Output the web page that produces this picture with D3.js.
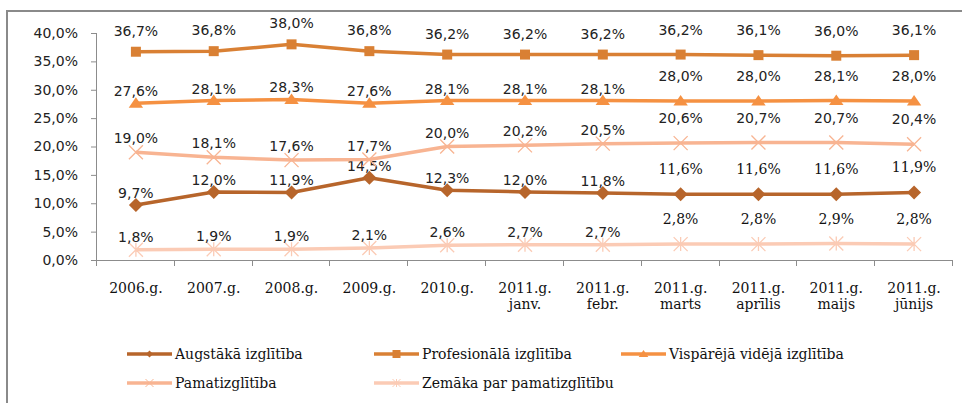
<!DOCTYPE html>
<html lang="lv">
<head>
    <meta charset="UTF-8">
    <title>Izglītība</title>
    <script src="https://d3js.org/d3.v7.min.js"></script>
    <style>
        body { margin: 0; background: #fff; }
        .num { font-family: "DejaVu Sans", Verdana, sans-serif; font-size: 14px; fill: #222; }
        .ser { font-family: "DejaVu Serif", serif; font-size: 14px; fill: #111; }
        .axis path, .axis line { stroke: #8c8c8c; }
    </style>
</head>
<body>
<script>
    const width  = 962;
    const height = 403;

    const years  = ["2006.g.", "2007.g.", "2008.g.", "2009.g.", "2010.g.", "2011.g.", "2011.g.", "2011.g.", "2011.g.", "2011.g.", "2011.g."];
    const months = ["", "", "", "", "", "janv.", "febr.", "marts", "aprīlis", "maijs", "jūnijs"];

    const augstaka     = [9.7, 12.0, 11.9, 14.5, 12.3, 12.0, 11.8, 11.6, 11.6, 11.6, 11.9];
    const profesionala = [36.7, 36.8, 38.0, 36.8, 36.2, 36.2, 36.2, 36.2, 36.1, 36.0, 36.1];
    const visparejaVideja = [27.6, 28.1, 28.3, 27.6, 28.1, 28.1, 28.1, 28.0, 28.0, 28.1, 28.0];
    const pamat        = [19.0, 18.1, 17.6, 17.7, 20.0, 20.2, 20.5, 20.6, 20.7, 20.7, 20.4];
    const zemaka       = [1.8, 1.9, 1.9, 2.1, 2.6, 2.7, 2.7, 2.8, 2.8, 2.9, 2.8];

    const yTicks = [0, 5, 10, 15, 20, 25, 30, 35, 40];

    const series = [
        {name: "Augstākā izglītība",       values: augstaka,        color: "#b7652b", shape: "diamond", gap: 7,  serifFrom: 7},
        {name: "Profesionālā izglītība",   values: profesionala,    color: "#d98034", shape: "square",  gap: 16, serifFrom: 99},
        {name: "Vispārējā vidējā izglītība", values: visparejaVideja, color: "#f59142", shape: "triangle", gap: 7, serifFrom: 99},
        {name: "Pamatizglītība",           values: pamat,           color: "#f8b492", shape: "x",       gap: 9,  serifFrom: 99},
        {name: "Zemāka par pamatizglītību", values: zemaka,         color: "#fbcbb5", shape: "star",    gap: 8,  serifFrom: 7}
    ];

    const fmt = v => v.toFixed(1).replace(".", ",") + "%";

    const x = d3.scaleBand().domain(d3.range(years.length)).range([97, 953]).padding(0);
    const y = d3.scaleLinear().domain([0, 40]).range([260, 33]);
    const cx = i => x(i) + x.bandwidth() / 2;

    function marker(shape, r) {
        if (shape === "diamond") return `M0,${-r}L${r},0L0,${r}L${-r},0Z`;
        if (shape === "square") return `M${-r},${-r}H${r}V${r}H${-r}Z`;
        if (shape === "triangle") return `M0,${-r}L${r * 1.2},${r * 0.75}L${-r * 1.2},${r * 0.75}Z`;
        if (shape === "x") return `M${-r},${-r}L${r},${r}M${r},${-r}L${-r},${r}`;
        return `M${-r},${-r}L${r},${r}M${r},${-r}L${-r},${r}M0,${-r}V${r}`;
    }
    const filled = s => s === "diamond" || s === "square" || s === "triangle";

    const svg = d3.select("body").append("svg").attr("width", width).attr("height", height);

    svg.append("rect").attr("x", 7).attr("y", 11).attr("width", 970).attr("height", 400)
        .attr("fill", "#fff").attr("stroke", "#8a8a8a").attr("stroke-width", 2);

    // y axis
    const yAxis = d3.axisLeft(y).tickValues(yTicks).tickSize(6).tickPadding(13).tickFormat(d => fmt(d));
    const gy = svg.append("g").attr("class", "axis").attr("transform", "translate(97,0)").call(yAxis);
    gy.select(".domain").attr("d", "M-0.5,33V265");
    gy.selectAll("text").attr("class", "num").attr("font-family", null).attr("font-size", null);

    // x axis (ticks on category boundaries)
    const gx = svg.append("g").attr("class", "axis");
    gx.append("line").attr("x1", 97).attr("x2", 953).attr("y1", 260.5).attr("y2", 260.5);
    gx.selectAll(".tk").data(d3.range(years.length + 1)).join("line")
        .attr("x1", i => Math.round(97 + i * x.step()) - 0.5).attr("x2", i => Math.round(97 + i * x.step()) - 0.5)
        .attr("y1", 260).attr("y2", 266);
    svg.append("g").selectAll("text").data(years).join("text")
        .attr("class", "ser").attr("text-anchor", "middle")
        .attr("x", (d, i) => cx(i)).attr("y", 293).text(d => d);
    svg.append("g").selectAll("text").data(months).join("text")
        .attr("class", "ser").attr("text-anchor", "middle")
        .attr("x", (d, i) => cx(i)).attr("y", 309).text(d => d);

    // lines, markers, labels
    const line = d3.line().x((d, i) => cx(i)).y(d => y(d));
    series.forEach(s => {
        const g = svg.append("g");
        g.append("path").attr("d", line(s.values)).attr("fill", "none")
            .attr("stroke", s.color).attr("stroke-width", 3.5).attr("stroke-linejoin", "round");
        g.selectAll(".m").data(s.values).join("path")
            .attr("transform", (d, i) => `translate(${cx(i)},${y(d)})`)
            .attr("d", marker(s.shape, s.shape === "square" ? 5 : s.shape === "triangle" ? 6 : 7))
            .attr("fill", filled(s.shape) ? s.color : "none")
            .attr("stroke", s.color).attr("stroke-width", filled(s.shape) ? 0 : 1.3);
        g.selectAll(".l").data(s.values).join("text")
            .attr("class", (d, i) => i >= s.serifFrom ? "ser" : "num")
            .attr("text-anchor", "middle")
            .attr("x", (d, i) => cx(i))
            .attr("y", (d, i) => y(d) - (i >= 7 ? 20 : s.gap))
            .text(d => fmt(d));
    });

    // legend
    const legendPos = [[127, 354], [374, 354], [621, 354], [127, 383], [374, 383]];
    series.forEach((s, k) => {
        const [lx, ly] = legendPos[k];
        const g = svg.append("g").attr("transform", `translate(${lx},${ly})`);
        g.append("line").attr("x1", 0).attr("x2", 45).attr("stroke", s.color).attr("stroke-width", 3.5);
        g.append("path").attr("transform", "translate(22.5,0)")
            .attr("d", marker(s.shape, s.shape === "diamond" ? 3.5 : 4))
            .attr("fill", filled(s.shape) ? s.color : "none")
            .attr("stroke", s.color).attr("stroke-width", filled(s.shape) ? 0 : 1);
        g.append("text").attr("class", "ser")
            .attr("x", 48).attr("y", 5).text(s.name);
    });
</script>
</body>
</html>
